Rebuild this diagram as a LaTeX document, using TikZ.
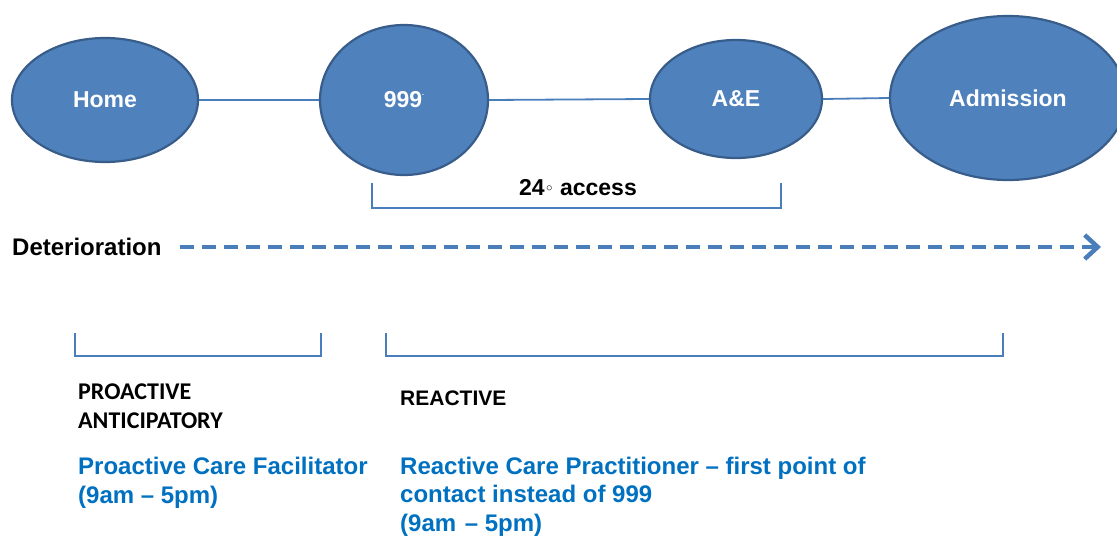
\documentclass[tikz,border=0pt]{standalone}
\usepackage{fontspec}
\setmainfont{Liberation Sans}
\newfontfamily\calib{Carlito}
\newfontfamily\djv{DejaVu Sans}
\usetikzlibrary{arrows.meta,shapes.geometric}
\definecolor{efill}{HTML}{4F81BD}
\definecolor{edraw}{HTML}{385D8A}
\definecolor{lblue}{HTML}{4A7EBB}
\definecolor{tblue}{HTML}{0070C0}
\tikzset{
  stage/.style={ellipse, fill=efill, draw=edraw, line width=2.2pt, text=white, font=\fontsize{23}{27}\selectfont\bfseries, inner sep=0pt},
  link/.style={draw=lblue, line width=1.8pt},
  brace/.style={draw=lblue, line width=2pt},
  lbl/.style={anchor=base west, inner sep=0pt, font=\fontsize{24}{29}\selectfont\bfseries},
  bluelbl/.style={lbl, text=tblue, align=left},
  catlbl/.style={anchor=base west, inner sep=0pt, font=\calib\fontsize{24}{29}\selectfont\bfseries, align=left}
}
\begin{document}
\begin{tikzpicture}[x=1pt,y=-1pt]
\useasboundingbox (0,0) rectangle (1117,536);
% stages
\node[stage, minimum width=186pt, minimum height=124pt] (home) at (105,100) {Home};
\node[stage, minimum width=168pt, minimum height=150pt] (ems) at (404,100) {999\raisebox{0.55em}{\fontsize{7}{7}\selectfont.}};
\node[stage, minimum width=172pt, minimum height=118pt] (ae) at (736,99) {A\&E};
\node[stage, minimum width=236pt, minimum height=164pt] (adm) at (1008,98) {Admission};
\draw[link] (home.east) -- (ems.west);
\draw[link] (ems.east) -- (ae.west);
\draw[link] (ae.east) -- (adm.west);
% 24 access bracket
\coordinate (b1a) at (372,183);
\coordinate (b1b) at (781,183);
\draw[brace] (b1a) -- ++(0,25) -| (b1b);
\node[anchor=base, inner sep=0pt, font=\fontsize{23}{27}\selectfont\bfseries] (acc) at (578,195) {24{\djv\fontsize{14}{14}\selectfont\raisebox{0.1em}{◦}} access};
% deterioration
\node[lbl] (det) at (12,255) {Deterioration};
\coordinate (dstart) at (180,247);
\coordinate (dend) at (1101,247);
\draw[draw=lblue, line width=4pt, dash pattern=on 14pt off 8pt, -{Straight Barb[length=13pt,width=24pt,line width=4.5pt]}] (dstart) -- (dend);
% lower brackets
\coordinate (p1) at (75,333);
\coordinate (p2) at (321,333);
\draw[brace] (p1) -- ++(0,23) -| (p2);
\coordinate (r1) at (386,333);
\coordinate (r2) at (1003,333);
\draw[brace] (r1) -- ++(0,23) -| (r2);
% labels (base = last line)
\node[catlbl] (pro) at (78,428) {PROACTIVE\\ANTICIPATORY};
\node[lbl, font=\fontsize{21}{25}\selectfont\bfseries] (rea) at (400,405) {REACTIVE};
\node[bluelbl] (pcf) at (78,503) {Proactive Care Facilitator\\(9am -- 5pm)};
\node[bluelbl, font=\fontsize{24}{28.5}\selectfont\bfseries] (rcp) at (400,531) {Reactive Care Practitioner -- first point of\\contact instead of 999\\(9am\hspace{2pt} -- 5pm)};
\end{tikzpicture}
\end{document}
